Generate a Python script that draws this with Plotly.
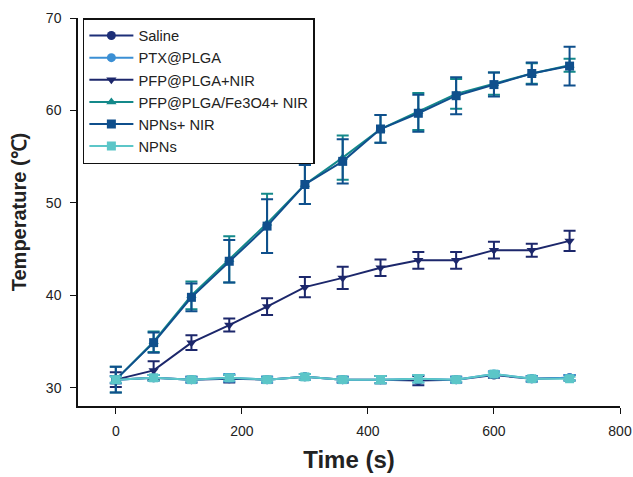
import plotly.graph_objects as go

time_s = [0, 60, 120, 180, 240, 300, 360, 420, 480, 540, 600, 660, 720]

names = ["Saline", "PTX@PLGA", "PFP@PLGA+NIR", "PFP@PLGA/Fe3O4+ NIR", "NPNs+ NIR", "NPNs"]

saline = [30.9, 31.1, 30.9, 31.0, 30.9, 31.2, 30.9, 30.9, 30.8, 30.9, 31.4, 31.0, 31.1]
saline_err = [0.4, 0.3, 0.3, 0.4, 0.3, 0.3, 0.3, 0.4, 0.5, 0.3, 0.3, 0.3, 0.3]
ptx = [30.9, 31.1, 30.9, 31.1, 30.9, 31.2, 30.9, 30.9, 31.0, 30.9, 31.5, 31.0, 31.1]
ptx_err = [0.4, 0.3, 0.3, 0.4, 0.3, 0.3, 0.3, 0.4, 0.4, 0.3, 0.3, 0.3, 0.3]
pfp = [30.9, 31.9, 34.9, 36.8, 38.8, 40.9, 41.9, 43.0, 43.8, 43.8, 44.9, 44.9, 45.9]
pfp_err = [0.8, 1.0, 0.8, 0.7, 0.9, 1.1, 1.2, 0.9, 0.9, 0.9, 0.9, 0.7, 1.1]
fe3o4 = [30.9, 35.0, 40.0, 43.9, 47.8, 52.0, 54.9, 58.0, 59.9, 61.8, 62.9, 64.0, 64.9]
fe3o4_err = [1.4, 1.1, 1.5, 2.5, 3.2, 2.1, 2.4, 1.5, 2.0, 1.6, 1.2, 1.1, 0.7]
npns_nir = [30.9, 34.9, 39.8, 43.7, 47.5, 52.0, 54.5, 58.0, 59.7, 61.6, 62.8, 64.0, 64.8]
npns_nir_err = [1.4, 1.1, 1.5, 2.3, 2.9, 2.1, 2.4, 1.5, 2.0, 2.0, 1.3, 1.2, 2.1]
npns = [30.9, 31.1, 30.9, 31.1, 30.9, 31.2, 30.9, 30.9, 31.0, 30.9, 31.5, 31.0, 31.0]
npns_err = [0.3, 0.3, 0.2, 0.3, 0.2, 0.3, 0.2, 0.4, 0.4, 0.2, 0.2, 0.2, 0.2]

series = [saline, ptx, pfp, fe3o4, npns_nir, npns]
errors = [saline_err, ptx_err, pfp_err, fe3o4_err, npns_nir_err, npns_err]
colors = ["#1d2f78", "#3b8fd4", "#1c276b", "#14898a", "#0f4f8c", "#5cc6c8"]
symbols = ["circle", "circle", "triangle-down", "triangle-up", "square", "square"]

fig = go.Figure()
for name, y, e, c, s in zip(names, series, errors, colors, symbols):
    fig.add_trace(go.Scatter(
        x=time_s, y=y, name=name, mode="lines+markers",
        line=dict(color=c, width=2),
        marker=dict(color=c, symbol=s, size=9),
        error_y=dict(type="data", array=e, color=c, thickness=2, width=6, visible=True),
    ))

font_family = "Liberation Sans, Arial, sans-serif"
fig.update_layout(
    width=633, height=477,
    margin=dict(l=78, r=13, t=18, b=71),
    paper_bgcolor="white", plot_bgcolor="white",
    font=dict(family=font_family, color="#222", size=14),
    showlegend=True,
    legend=dict(x=0.009, y=1.0, xanchor="left", yanchor="top",
                bordercolor="#111", borderwidth=1.5, bgcolor="white",
                font=dict(size=14.7, family=font_family, color="#222"),
                tracegroupgap=0, itemwidth=44),
    xaxis=dict(range=[-60, 800], tickvals=[0, 200, 400, 600, 800],
               showline=True, linecolor="#111", linewidth=1.5,
               ticks="outside", ticklen=6, tickcolor="#111", tickwidth=1.2,
               ticklabelstandoff=5, ticklabeloverflow="allow", automargin=False,
               showgrid=False, zeroline=False,
               title=dict(text="<b>Time (s)</b>", font=dict(size=24), standoff=14)),
    yaxis=dict(range=[28.05, 70], tickvals=[30, 40, 50, 60, 70],
               showline=True, linecolor="#111", linewidth=1.5,
               ticks="outside", ticklen=6, tickcolor="#111", tickwidth=1.2,
               ticklabelstandoff=6, ticklabeloverflow="allow", automargin=False,
               showgrid=False, zeroline=False,
               title=dict(text="<b>Temperature (℃)</b>", font=dict(size=20), standoff=14)),
)

fig.write_html("out.html", config={"displayModeBar": False},
               post_script="document.body.style.margin='0px';")
